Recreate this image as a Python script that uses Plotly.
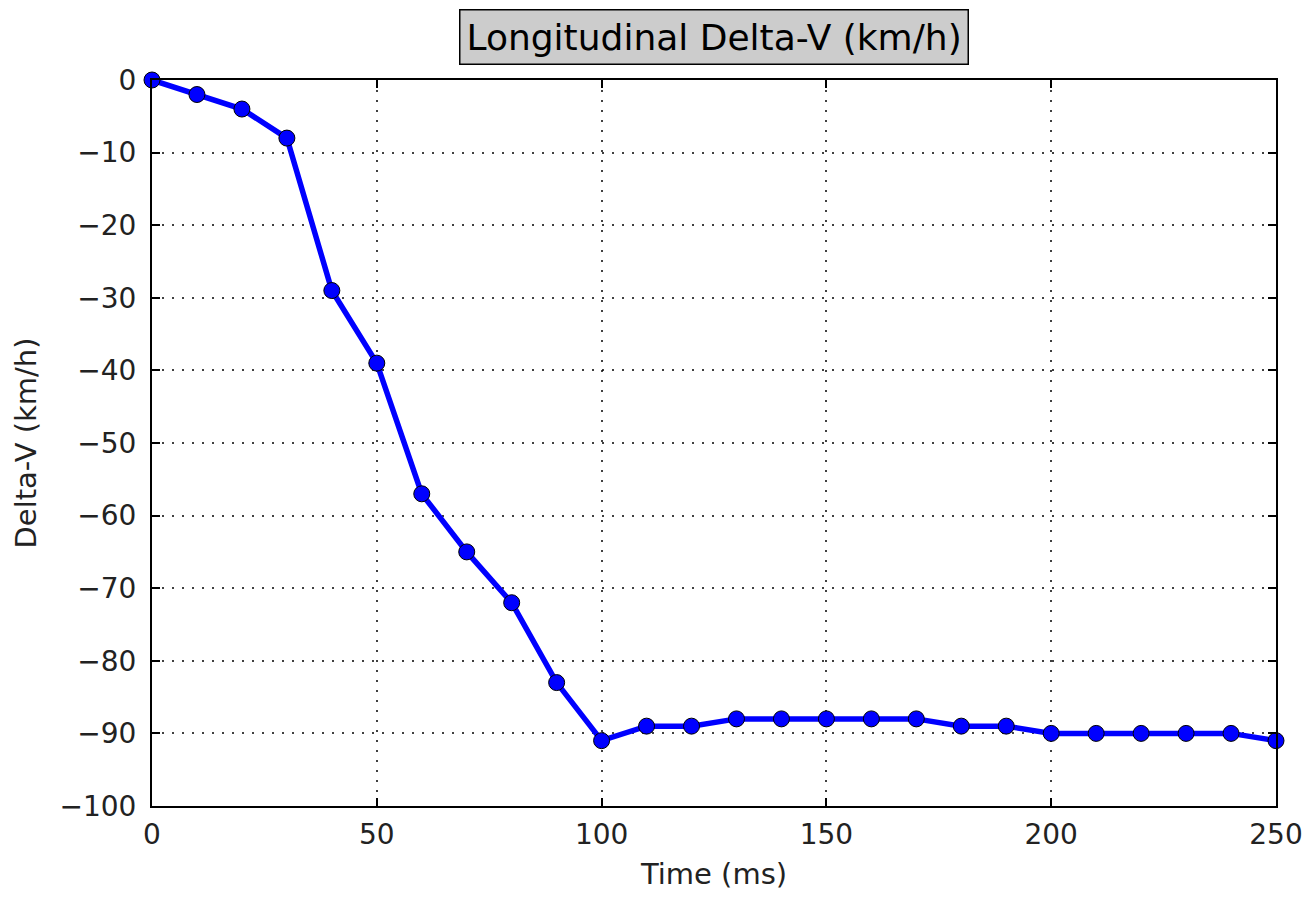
import plotly.graph_objects as go

time_ms = [0, 10, 20, 30, 40, 50, 60, 70, 80, 90, 100, 110, 120, 130, 140, 150,
           160, 170, 180, 190, 200, 210, 220, 230, 240, 250]
delta_v = [0, -2, -4, -8, -29, -39, -57, -65, -72, -83, -91, -89, -89, -88, -88, -88,
           -88, -88, -89, -89, -90, -90, -90, -90, -90, -91]

x_ticks = [0, 50, 100, 150, 200, 250]
y_ticks = [0, -10, -20, -30, -40, -50, -60, -70, -80, -90, -100]

FONT = "DejaVu Sans"

fig = go.Figure()
fig.add_trace(go.Scatter(
    x=time_ms, y=delta_v, mode="lines+markers",
    line=dict(color="#0000ff", width=5.5),
    marker=dict(color="#0000ff", size=16, line=dict(color="black", width=1)),
    cliponaxis=False, showlegend=False,
))

axis_common = dict(
    showline=True, linecolor="black", linewidth=2, mirror="ticks",
    ticks="inside", ticklen=8, tickwidth=1.5, tickcolor="black",
    showgrid=True, gridcolor="rgba(0,0,0,0.75)", griddash="2px,8px", gridwidth=1.5,
    zeroline=False,
    tickfont=dict(family=FONT, size=28, color="#222222"),
)

fig.update_xaxes(range=[0, 250], tickvals=x_ticks,
                 title=dict(text="Time (ms)", font=dict(family=FONT, size=29, color="#222222"), standoff=14),
                 ticklabelstandoff=2,
                 **axis_common)
fig.update_yaxes(range=[-100, 0], tickvals=y_ticks,
                 title=dict(text="Delta-V (km/h)", font=dict(family=FONT, size=29, color="#222222"), standoff=14),
                 ticklabelstandoff=8,
                 **axis_common)

fig.add_annotation(
    text="Longitudinal Delta-V (km/h)", xref="paper", yref="paper",
    x=0.5, y=1.0, yshift=43, xanchor="center", yanchor="middle", showarrow=False,
    font=dict(family=FONT, size=36, color="black"),
    bgcolor="#cccccc", bordercolor="black", borderwidth=1.5, borderpad=6,
)

fig.update_layout(
    width=1312, height=897,
    margin=dict(l=152, r=36, t=80, b=91, autoexpand=False),
    plot_bgcolor="white", paper_bgcolor="white",
    font=dict(family=FONT),
)

fig.write_html("out.html")
